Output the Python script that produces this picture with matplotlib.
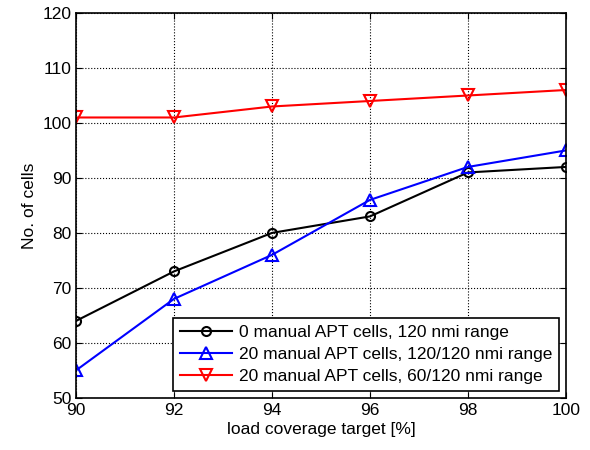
import matplotlib
matplotlib.use('Agg')
import matplotlib.pyplot as plt

plt.rcParams['font.family'] = 'Liberation Sans'
plt.rcParams['font.size'] = 12.5

load_target = [90, 92, 94, 96, 98, 100]
cells_0_manual = [64, 73, 80, 83, 91, 92]
cells_20_manual_120 = [55, 68, 76, 86, 92, 95]
cells_20_manual_60 = [101, 101, 103, 104, 105, 106]

labels = ['0 manual APT cells, 120 nmi range',
          '20 manual APT cells, 120/120 nmi range',
          '20 manual APT cells, 60/120 nmi range']

fig = plt.figure(figsize=(5.9, 4.5), dpi=100)
ax = fig.add_axes([0.129, 0.116, 0.83, 0.855])

ax.plot(load_target, cells_0_manual, '-o', color='black', lw=1.5, ms=6.5,
        mfc='none', mew=1.5, label=labels[0])
ax.plot(load_target, cells_20_manual_120, '-^', color='blue', lw=1.5, ms=8,
        mfc='none', mew=1.5, label=labels[1])
ax.plot(load_target, cells_20_manual_60, '-v', color='red', lw=1.5, ms=8,
        mfc='none', mew=1.5, label=labels[2])

ax.set_xlim(90, 100)
ax.set_ylim(50, 120)
ax.set_xticks(range(90, 101, 2))
ax.set_yticks(range(50, 121, 10))
ax.grid(True, linestyle=':', color='black', lw=0.8)
ax.tick_params(direction='in', length=4, top=True, right=True)
for s in ax.spines.values():
    s.set_linewidth(1.2)

ax.set_xlabel('load coverage target [%]', labelpad=3)
ax.set_ylabel('No. of cells')

leg = ax.legend(loc='lower right', fancybox=False, edgecolor='black',
                framealpha=1, borderaxespad=0.4, handlelength=3,
                borderpad=0.4, labelspacing=0.4, handletextpad=0.4)
leg.get_frame().set_linewidth(1.2)

fig.savefig('out.png', dpi=100)
